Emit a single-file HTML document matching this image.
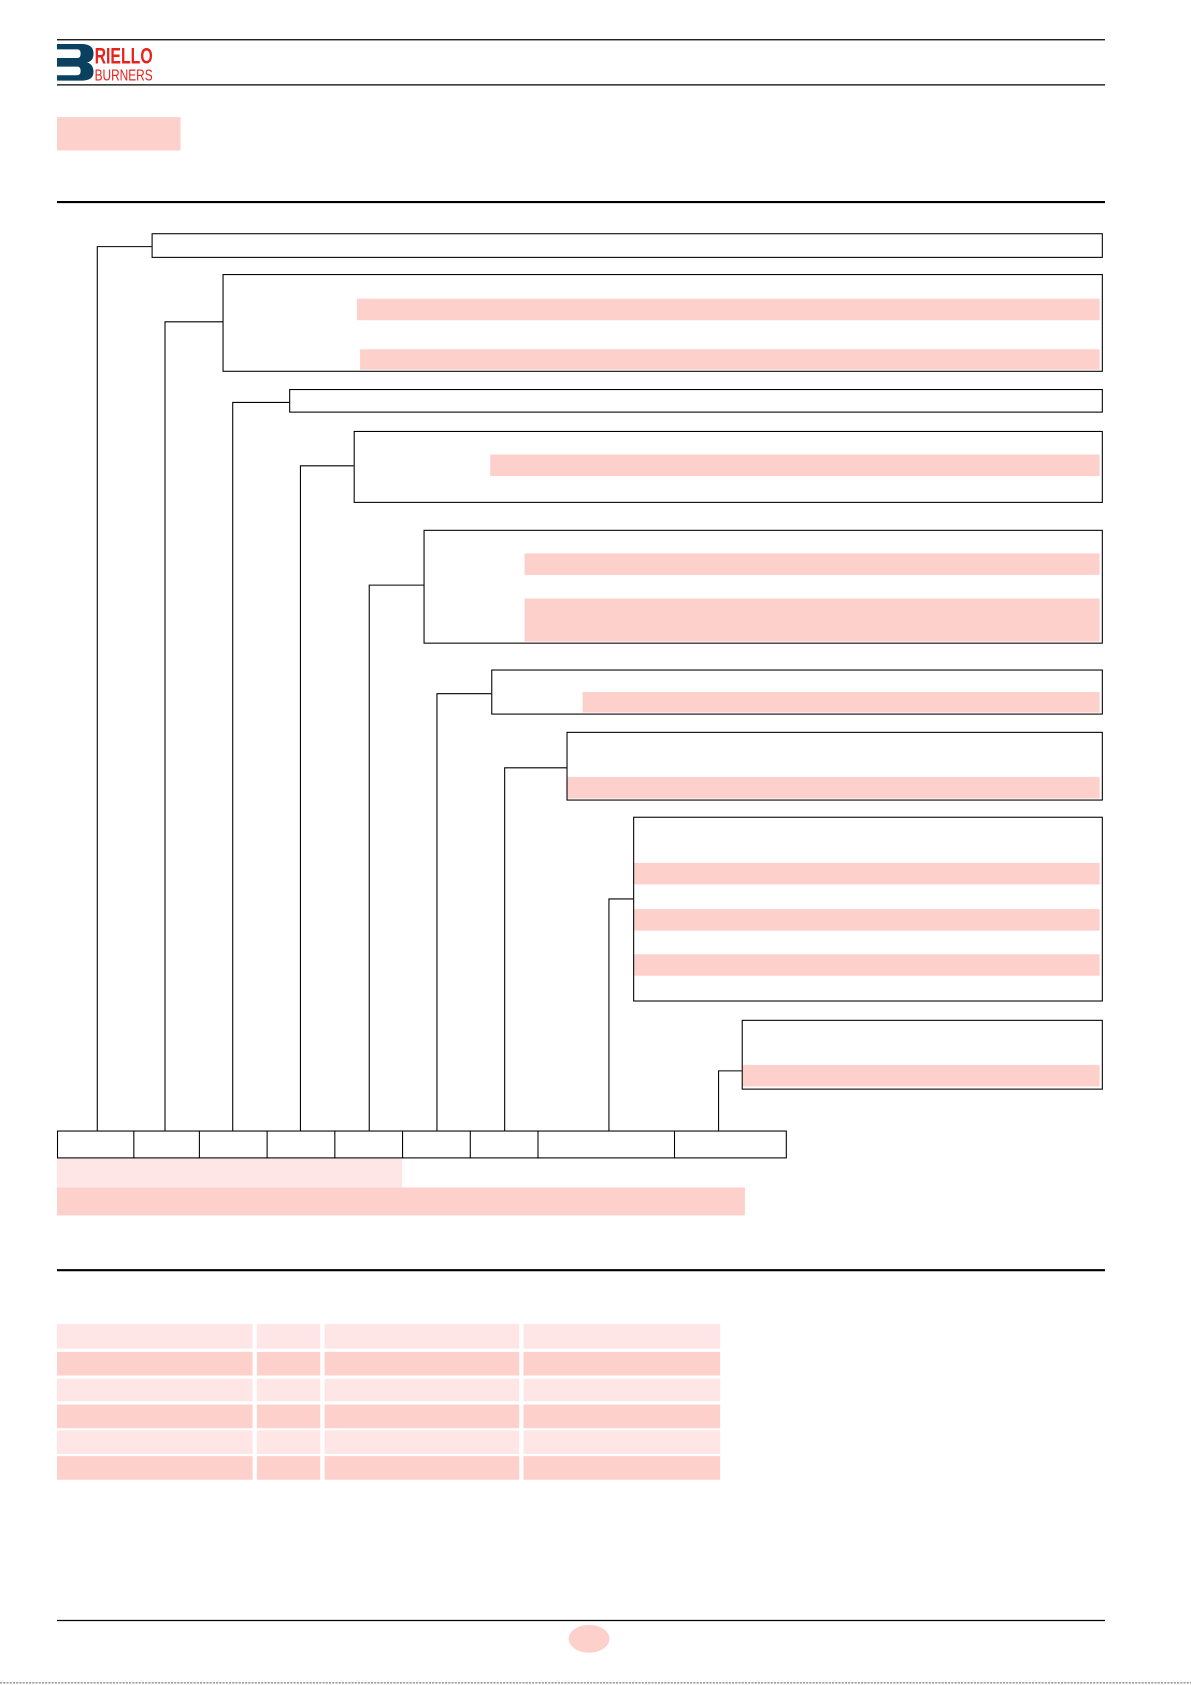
<!DOCTYPE html>
<html><head><meta charset="utf-8"><style>html,body{margin:0;padding:0;background:#fff}svg{display:block}</style></head>
<body>
<svg width="1191" height="1685" viewBox="0 0 1108 1568" preserveAspectRatio="none" xmlns="http://www.w3.org/2000/svg">
<g stroke="#000" fill="none">
<line x1="53" y1="37" x2="1028" y2="37" stroke-width="1.2"/>
<line x1="53" y1="79" x2="1028" y2="79" stroke-width="1.2"/>
<line x1="53" y1="188" x2="1028" y2="188" stroke-width="2"/>
<line x1="53" y1="1182" x2="1028" y2="1182" stroke-width="2"/>
<line x1="53" y1="1508" x2="1028" y2="1508" stroke-width="1.2"/>
</g>
<!-- logo -->
<path d="M53 41 H76 Q87 41 87 50 Q87 57 81 58 Q87 60 87 67 Q87 75 76 75 H53 V70 H72 Q75 70 75 66 Q75 62 72 62 H53 V54 H72 Q75 54 75 50 Q75 46 72 46 H53 Z" fill="#0b4160"/>
<text x="88" y="59" font-family="Liberation Sans, sans-serif" font-weight="bold" font-size="21" fill="#e8221c" textLength="54" lengthAdjust="spacingAndGlyphs">RIELLO</text>
<text x="88" y="75" font-family="Liberation Sans, sans-serif" font-size="15" fill="#e8221c" textLength="54" lengthAdjust="spacingAndGlyphs">BURNERS</text>
<rect x="53" y="109" width="115" height="31" fill="#fdd0cc"/>
<g fill="#fdd0cc">
<rect x="332" y="278" width="691" height="20"/>
<rect x="335" y="325" width="688" height="19"/>
<rect x="456" y="423" width="567" height="20"/>
<rect x="488" y="515" width="535" height="20"/>
<rect x="488" y="557" width="535" height="40"/>
<rect x="542" y="644" width="481" height="19"/>
<rect x="528" y="723" width="495" height="20"/>
<rect x="590" y="803" width="433" height="20"/>
<rect x="590" y="846" width="433" height="20"/>
<rect x="590" y="888" width="433" height="20"/>
<rect x="691" y="991" width="332" height="20"/>
<rect x="53" y="1105" width="640" height="26"/>
</g>
<rect x="53" y="1078" width="321" height="27" fill="#fde6e5"/>
<g stroke="#000" fill="none" stroke-width="1">
<rect x="141.5" y="217.5" width="884" height="22"/>
<rect x="207.5" y="255.5" width="818" height="90"/>
<rect x="269.5" y="362.5" width="756" height="21"/>
<rect x="329.5" y="401.5" width="696" height="66"/>
<rect x="394.5" y="493.5" width="631" height="105"/>
<rect x="457.5" y="623.5" width="568" height="41"/>
<rect x="527.5" y="681.5" width="498" height="63"/>
<rect x="589.5" y="760.5" width="436" height="171"/>
<rect x="690.5" y="949.5" width="335" height="64"/>
<polyline points="90.5,1052 90.5,229.5 141,229.5"/>
<polyline points="153.5,1052 153.5,299.5 207,299.5"/>
<polyline points="216.5,1052 216.5,374.5 269,374.5"/>
<polyline points="279.5,1052 279.5,433.5 329,433.5"/>
<polyline points="343.5,1052 343.5,544.5 394,544.5"/>
<polyline points="406.5,1052 406.5,645.5 457,645.5"/>
<polyline points="469.5,1052 469.5,714.5 527,714.5"/>
<polyline points="566.5,1052 566.5,836.5 589,836.5"/>
<polyline points="668.5,1052 668.5,996.5 690,996.5"/>
<rect x="53.5" y="1052.5" width="678" height="25"/>
<line x1="124.5" y1="1052" x2="124.5" y2="1078"/>
<line x1="185.5" y1="1052" x2="185.5" y2="1078"/>
<line x1="248.5" y1="1052" x2="248.5" y2="1078"/>
<line x1="311.5" y1="1052" x2="311.5" y2="1078"/>
<line x1="374.5" y1="1052" x2="374.5" y2="1078"/>
<line x1="437.5" y1="1052" x2="437.5" y2="1078"/>
<line x1="500.5" y1="1052" x2="500.5" y2="1078"/>
<line x1="627.5" y1="1052" x2="627.5" y2="1078"/>
</g>
<g>
<g fill="#fde6e5"><rect x="53" y="1232" width="182" height="23"/><rect x="239" y="1232" width="59" height="23"/><rect x="302" y="1232" width="181" height="23"/><rect x="487" y="1232" width="183" height="23"/></g>
<g fill="#fdd0cc"><rect x="53" y="1258" width="182" height="22"/><rect x="239" y="1258" width="59" height="22"/><rect x="302" y="1258" width="181" height="22"/><rect x="487" y="1258" width="183" height="22"/></g>
<g fill="#fde6e5"><rect x="53" y="1283" width="182" height="21"/><rect x="239" y="1283" width="59" height="21"/><rect x="302" y="1283" width="181" height="21"/><rect x="487" y="1283" width="183" height="21"/></g>
<g fill="#fdd0cc"><rect x="53" y="1307" width="182" height="22"/><rect x="239" y="1307" width="59" height="22"/><rect x="302" y="1307" width="181" height="22"/><rect x="487" y="1307" width="183" height="22"/></g>
<g fill="#fde6e5"><rect x="53" y="1331" width="182" height="22"/><rect x="239" y="1331" width="59" height="22"/><rect x="302" y="1331" width="181" height="22"/><rect x="487" y="1331" width="183" height="22"/></g>
<g fill="#fdd0cc"><rect x="53" y="1355" width="182" height="22"/><rect x="239" y="1355" width="59" height="22"/><rect x="302" y="1355" width="181" height="22"/><rect x="487" y="1355" width="183" height="22"/></g>
</g>
<ellipse cx="548" cy="1525" rx="19" ry="13" fill="#fdd0cc"/>
<line x1="0" y1="1566" x2="1108" y2="1566" stroke="#000" stroke-width="1" stroke-dasharray="2,1" opacity="0.6"/>
</svg>
</body></html>
